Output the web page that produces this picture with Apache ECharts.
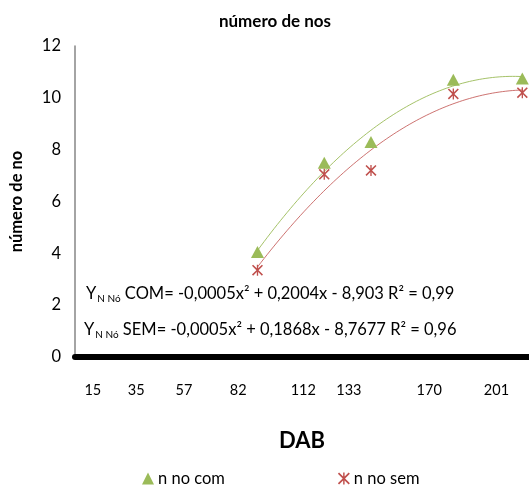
<!DOCTYPE html>
<html>
<head>
<meta charset="utf-8">
<script src="https://cdn.jsdelivr.net/npm/echarts@6/dist/echarts.min.js"></script>
<style>
  html, body { margin: 0; padding: 0; background: #fff; }
  #chart { width: 529px; height: 486px; }
</style>
</head>
<body>
<div id="chart"></div>
<script>
// Days after sowing (DAB) where nodes were counted
const dab = [82, 112, 133, 170, 201];
// Mean number of nodes, with and without treatment
const nNoCom = [4.05, 7.5, 8.3, 10.7, 10.75];
const nNoSem = [3.35, 7.05, 7.2, 10.15, 10.2];
// Sampling dates printed under the axis
const dabTicks = [15, 35, 57, 82, 112, 133, 170, 201];
// Fitted equations shown on the plot
const eqCom = ' COM= -0,0005x² + 0,2004x - 8,903 R² = 0,99';
const eqSem = ' SEM= -0,0005x² + 0,1868x - 8,7677 R² = 0,96';

const GREEN = '#9BBB59';
const RED = '#C0504D';
const FONT = 'Lato, "Open Sans", sans-serif';

// Least-squares second order polynomial (same as a spreadsheet trendline)
function polyFit2(xs, ys) {
  let s = [0, 0, 0, 0, 0], t = [0, 0, 0];
  xs.forEach((x, i) => {
    for (let k = 0; k < 5; k++) s[k] += Math.pow(x, k);
    for (let k = 0; k < 3; k++) t[k] += ys[i] * Math.pow(x, k);
  });
  const A = [[s[0], s[1], s[2], t[0]], [s[1], s[2], s[3], t[1]], [s[2], s[3], s[4], t[2]]];
  for (let i = 0; i < 3; i++) {
    for (let j = i + 1; j < 3; j++) {
      const f = A[j][i] / A[i][i];
      for (let k = i; k < 4; k++) A[j][k] -= f * A[i][k];
    }
  }
  const c = [0, 0, 0];
  for (let i = 2; i >= 0; i--) {
    let v = A[i][3];
    for (let k = i + 1; k < 3; k++) v -= A[i][k] * c[k];
    c[i] = v / A[i][i];
  }
  return c; // c0 + c1 x + c2 x^2
}

function trendPoints(xs, ys) {
  const c = polyFit2(xs, ys);
  const lo = Math.min(...xs), hi = Math.max(...xs);
  const pts = [];
  const n = 80;
  for (let i = 0; i <= n; i++) {
    const x = lo + (hi - lo) * i / n;
    pts.push([x, c[0] + c[1] * x + c[2] * x * x]);
  }
  return pts;
}

// Asterisk-style cross marker
const starX = 'path://M1,0 L5,4 L9,0 L10,1 L6,5 L10,9 L9,10 L5,6 L1,10 L0,9 L4,5 L0,1 Z M4.4,0 L5.6,0 L5.6,10 L4.4,10 Z';

const chart = echarts.init(document.getElementById('chart'), null, { renderer: 'canvas' });

const eqRich = {
  y: { fontFamily: FONT, fontSize: 16.5, color: '#000', lineHeight: 20 },
  s: { fontFamily: FONT, fontSize: 10, color: '#000', lineHeight: 20, verticalAlign: 'bottom', padding: [8, 0, 0, 1] },
  t: { fontFamily: FONT, fontSize: 16.5, color: '#000', lineHeight: 20 }
};

chart.setOption({
  animation: false,
  backgroundColor: '#fff',
  title: {
    text: 'número de nos',
    left: 270, top: 8,
    textAlign: 'center',
    textStyle: { fontFamily: FONT, fontSize: 17, fontWeight: 'bold', color: '#000' }
  },
  legend: {
    data: [
      { name: 'n no com', icon: 'triangle' },
      { name: 'n no sem', icon: starX }
    ],
    left: 137, top: 465,
    itemWidth: 12, itemHeight: 12, itemGap: 113,
    textStyle: { fontFamily: FONT, fontSize: 16.5, color: '#000', padding: [0, 0, 0, -1] }
  },
  grid: { left: 70, right: 0, top: 46, bottom: 129, containLabel: false },
  xAxis: [
    {
      type: 'value', min: 0, max: 204, position: 'bottom', offset: 3,
      name: 'DAB', nameLocation: 'middle', nameGap: 70,
      nameTextStyle: { fontFamily: FONT, fontSize: 22, fontWeight: 'bold', color: '#000' },
      axisLine: { show: true, lineStyle: { color: '#000', width: 6 } },
      axisTick: { show: false },
      axisLabel: { show: false },
      splitLine: { show: false }
    },
    {
      // label-only axis carrying the sampling dates
      type: 'value', min: 6.8, max: 216, position: 'bottom', offset: 0,
      axisLine: { show: false },
      axisTick: { show: false },
      splitLine: { show: false },
      axisLabel: {
        show: true, customValues: dabTicks, margin: 26,
        fontFamily: FONT, fontSize: 14.5, color: '#000'
      }
    }
  ],
  yAxis: {
    type: 'value', min: 0, max: 12, interval: 2,
    name: 'número de no', nameLocation: 'middle', nameGap: 50,
    nameTextStyle: { fontFamily: FONT, fontSize: 16.5, fontWeight: 'bold', color: '#000' },
    axisLine: { show: true, lineStyle: { color: '#868686', width: 1.5 } },
    axisTick: { show: false },
    splitLine: { show: false },
    axisLabel: { fontFamily: FONT, fontSize: 16.5, color: '#000', margin: 14 }
  },
  series: [
    {
      name: 'trend com', type: 'line', xAxisIndex: 0,
      data: trendPoints(dab, nNoCom), showSymbol: false, silent: true,
      lineStyle: { color: GREEN, width: 1, opacity: 0.9 }, z: 1
    },
    {
      name: 'trend sem', type: 'line', xAxisIndex: 0,
      data: trendPoints(dab, nNoSem), showSymbol: false, silent: true,
      lineStyle: { color: RED, width: 1, opacity: 0.8 }, z: 1
    },
    {
      name: 'n no com', type: 'scatter', xAxisIndex: 0,
      data: dab.map((d, i) => [d, nNoCom[i]]),
      symbol: 'triangle', symbolSize: [13, 12],
      itemStyle: { color: GREEN, opacity: 1 }, z: 3
    },
    {
      name: 'n no sem', type: 'scatter', xAxisIndex: 0,
      data: dab.map((d, i) => [d, nNoSem[i]]),
      symbol: starX, symbolSize: 11,
      itemStyle: { color: RED, opacity: 1 }, z: 3
    }
  ],
  graphic: [
    {
      type: 'text', left: 86, top: 285,
      style: { text: '{y|Y}{s|N Nó}{t|' + eqCom + '}', rich: eqRich }
    },
    {
      type: 'text', left: 84, top: 321,
      style: { text: '{y|Y}{s|N Nó}{t|' + eqSem + '}', rich: eqRich }
    }
  ]
});
</script>
</body>
</html>
